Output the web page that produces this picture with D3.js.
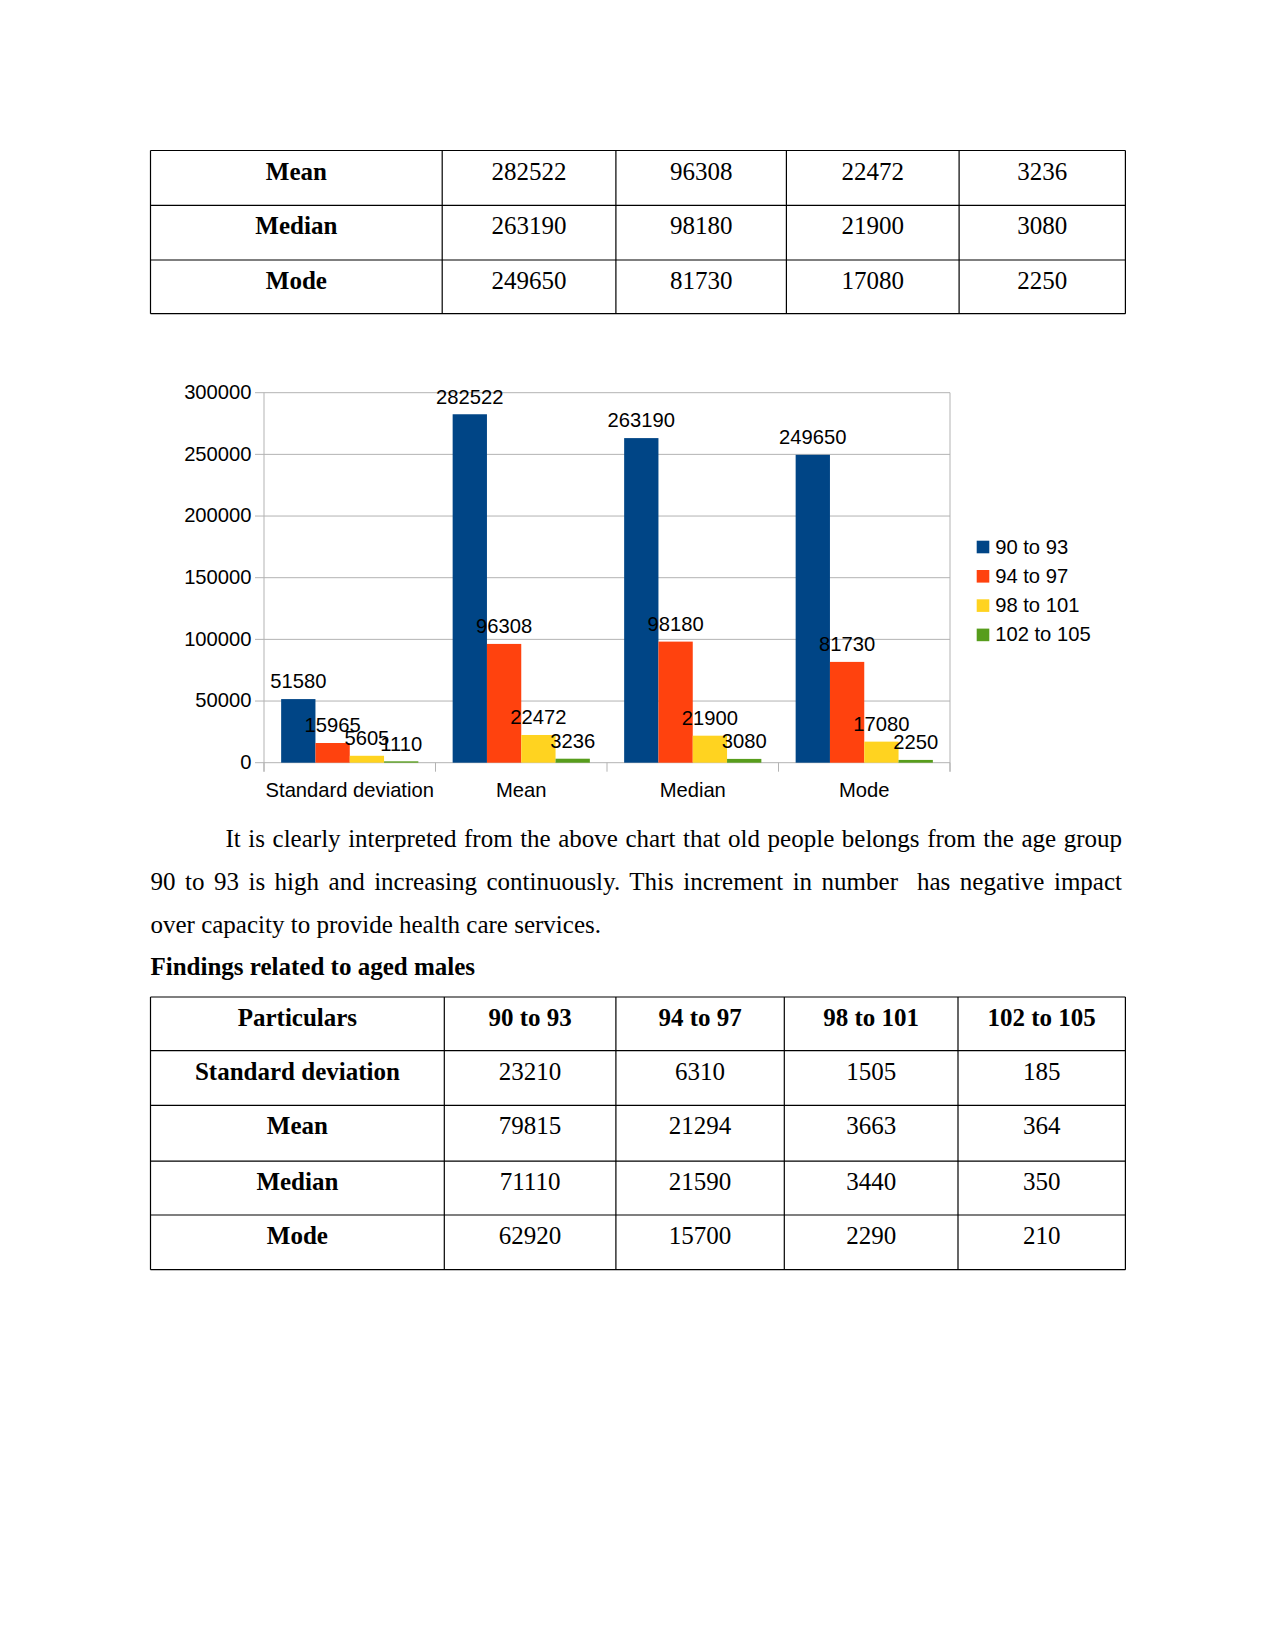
<!DOCTYPE html>
<html><head><meta charset="utf-8">
<script src="https://cdn.jsdelivr.net/npm/d3@7"></script>
<style>
html,body{margin:0;padding:0;background:#fff;}
svg{display:block;}
</style></head>
<body>
<script>
// ---------- data ----------
const categories = ["Standard deviation", "Mean", "Median", "Mode"];
const seriesNames = ["90 to 93", "94 to 97", "98 to 101", "102 to 105"];
const s90to93  = [51580, 282522, 263190, 249650];
const s94to97  = [15965, 96308, 98180, 81730];
const s98to101 = [5605, 22472, 21900, 17080];
const s102to105 = [1110, 3236, 3080, 2250];
const yTicks = [0, 50000, 100000, 150000, 200000, 250000, 300000];
const seriesColors = ["#004586", "#ff420e", "#ffd320", "#579d1c"];

// top table (continuation)
const table1Rows = [
  ["Mean", "282522", "96308", "22472", "3236"],
  ["Median", "263190", "98180", "21900", "3080"],
  ["Mode", "249650", "81730", "17080", "2250"]
];
// males table
const table2Header = ["Particulars", "90 to 93", "94 to 97", "98 to 101", "102 to 105"];
const table2Rows = [
  ["Standard deviation", "23210", "6310", "1505", "185"],
  ["Mean", "79815", "21294", "3663", "364"],
  ["Median", "71110", "21590", "3440", "350"],
  ["Mode", "62920", "15700", "2290", "210"]
];
const paraLines = [
  "It is clearly interpreted from the above chart that old people belongs from the age group",
  "90 to 93 is high and increasing continuously. This increment in number  has negative impact",
  "over capacity to provide health care services."
];
const heading = "Findings related to aged males";

const allSeries = [s90to93, s94to97, s98to101, s102to105];

// ---------- page ----------
const W = 1275, H = 1651;
const svg = d3.select("body").append("svg").attr("width", W).attr("height", H);
svg.append("rect").attr("width", W).attr("height", H).attr("fill", "#fff");

const serif = "'Liberation Serif','Times New Roman',serif";
const sans = "'Liberation Sans',Arial,sans-serif";
const chartFont = 20.2;

function drawTable(rowYs, colXs, rows, boldHeaderRow) {
  const g = svg.append("g");
  const left = colXs[0], right = colXs[colXs.length - 1];
  rowYs.forEach(y => g.append("line").attr("x1", left).attr("x2", right)
    .attr("y1", y).attr("y2", y).attr("stroke", "#000").attr("stroke-width", 1.2));
  colXs.forEach(x => g.append("line").attr("x1", x).attr("x2", x)
    .attr("y1", rowYs[0]).attr("y2", rowYs[rowYs.length - 1]).attr("stroke", "#000").attr("stroke-width", 1.2));
  rows.forEach((r, ri) => {
    r.forEach((t, ci) => {
      const bold = ci === 0 || (boldHeaderRow && ri === 0);
      g.append("text")
        .attr("x", (colXs[ci] + colXs[ci + 1]) / 2)
        .attr("y", rowYs[ri] + 29)
        .attr("text-anchor", "middle")
        .attr("font-family", serif)
        .attr("font-size", 25)
        .attr("font-weight", bold ? "bold" : "normal")
        .attr("fill", "#000")
        .text(t);
    });
  });
}

drawTable([150.5, 205.3, 260, 313.7], [150.5, 442.2, 615.9, 786.4, 959.1, 1125.4], table1Rows, false);
drawTable([997, 1050.7, 1105.4, 1161.2, 1215, 1269.7], [150.5, 444.3, 615.9, 784.3, 958, 1125.4],
  [table2Header].concat(table2Rows), true);

// ---------- chart ----------
const plot = {left: 264, right: 950, top: 392.7, bottom: 762.7};
const y = d3.scaleLinear().domain([0, 300000]).range([plot.bottom, plot.top]);
const x0 = d3.scaleBand().domain(categories).range([plot.left, plot.right]).paddingInner(0).paddingOuter(0);
const x1 = d3.scaleBand().domain(seriesNames).range([x0.bandwidth() * 0.1, x0.bandwidth() * 0.9]).padding(0);

const chart = svg.append("g");
const gridColor = "#b3b3b3";
// gridlines
chart.selectAll(".grid").data(yTicks).join("line")
  .attr("x1", plot.left - 9).attr("x2", plot.right)
  .attr("y1", d => y(d)).attr("y2", d => y(d))
  .attr("stroke", gridColor).attr("stroke-width", 1);
// y axis line
chart.append("line").attr("x1", plot.left).attr("x2", plot.left)
  .attr("y1", plot.top).attr("y2", plot.bottom + 9).attr("stroke", gridColor);
// right border
chart.append("line").attr("x1", plot.right).attr("x2", plot.right)
  .attr("y1", plot.top).attr("y2", plot.bottom + 9).attr("stroke", gridColor);
// x category ticks
const xTickPos = categories.map(c => x0(c)).concat([plot.right]);
chart.selectAll(".xt").data(xTickPos).join("line")
  .attr("x1", d => d).attr("x2", d => d)
  .attr("y1", plot.bottom).attr("y2", plot.bottom + 9)
  .attr("stroke", gridColor);
// y tick labels
chart.selectAll(".yl").data(yTicks).join("text")
  .attr("x", plot.left - 12.5).attr("y", d => y(d) + 6.2)
  .attr("text-anchor", "end").attr("font-family", sans).attr("font-size", chartFont).attr("fill", "#000")
  .text(d => d);
// category labels
chart.selectAll(".xl").data(categories).join("text")
  .attr("x", d => x0(d) + x0.bandwidth() / 2).attr("y", 797)
  .attr("text-anchor", "middle").attr("font-family", sans).attr("font-size", chartFont).attr("fill", "#000")
  .text(d => d);

// bars
const barData = [];
categories.forEach((c, ci) => {
  seriesNames.forEach((s, si) => {
    barData.push({cat: c, ser: s, si: si, v: allSeries[si][ci]});
  });
});
chart.selectAll(".bar").data(barData).join("rect")
  .attr("x", d => x0(d.cat) + x1(d.ser))
  .attr("width", x1.bandwidth())
  .attr("y", d => y(d.v))
  .attr("height", d => plot.bottom - y(d.v))
  .attr("fill", d => seriesColors[d.si]);
// data labels
chart.selectAll(".dl").data(barData).join("text")
  .attr("x", d => x0(d.cat) + x1(d.ser) + x1.bandwidth() / 2)
  .attr("y", d => y(d.v) - 10.7)
  .attr("text-anchor", "middle").attr("font-family", sans).attr("font-size", chartFont).attr("fill", "#000")
  .text(d => d.v);

// legend
const leg = chart.selectAll(".leg").data(seriesNames).join("g")
  .attr("transform", (d, i) => `translate(976.7, ${540.7 + i * 29.3})`);
leg.append("rect").attr("width", 12.6).attr("height", 12.6).attr("fill", (d, i) => seriesColors[i]);
leg.append("text").attr("x", 18.5).attr("y", 12.8)
  .attr("font-family", sans).attr("font-size", chartFont).attr("fill", "#000").text(d => d);

// ---------- paragraph ----------
const pLeft = 150.5, pRight = 1122, indent = 75;
const baselines = [847, 890, 933];
paraLines.forEach((line, i) => {
  const x = i === 0 ? pLeft + indent : pLeft;
  const t = svg.append("text").attr("x", x).attr("y", baselines[i])
    .attr("font-family", serif).attr("font-size", 25).attr("fill", "#000")
    .attr("xml:space", "preserve").style("white-space", "pre")
    .text(line);
  if (i < paraLines.length - 1) {
    const natural = t.node().getComputedTextLength();
    const gaps = (line.match(/ /g) || []).length;
    const extra = (pRight - x - natural) / gaps;
    t.attr("word-spacing", extra);
  }
});
svg.append("text").attr("x", pLeft).attr("y", 975)
  .attr("font-family", serif).attr("font-size", 25).attr("font-weight", "bold").attr("fill", "#000")
  .text(heading);
</script>
</body></html>
